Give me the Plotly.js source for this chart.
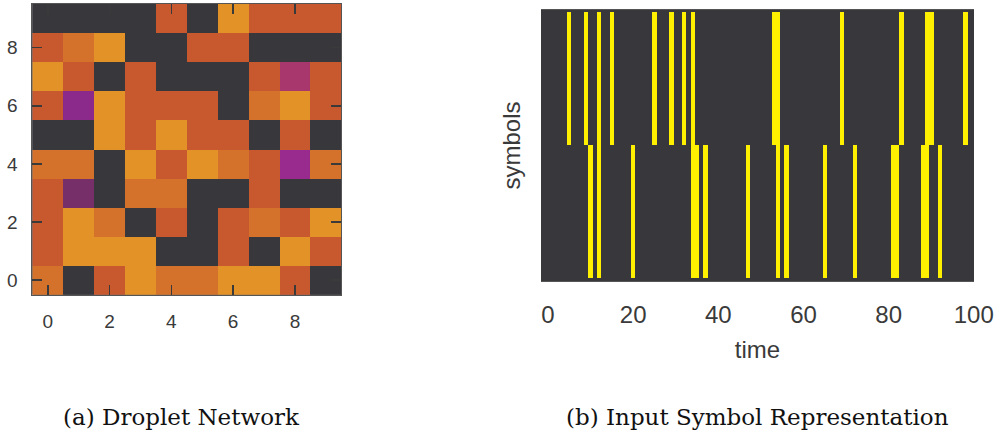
<!DOCTYPE html>
<html>
<head>
<meta charset="utf-8">
<script src="https://cdn.plot.ly/plotly-3.0.1.min.js"></script>
<style>html,body{margin:0;padding:0;background:#fff;}#chart{width:1001px;height:434px;}</style>
</head>
<body>
<div id="chart"></div>
<script>
// ---- Droplet network: state level of each droplet (rows y=0..9, cols x=0..9) ----
// levels: 0 empty, 1 dark purple, 2 purple, 3 violet, 4 magenta, 5 red, 6 orange, 7 amber
const dropletX = [0,1,2,3,4,5,6,7,8,9];
const dropletY = [0,1,2,3,4,5,6,7,8,9];
const row0 = [6,0,5,7,6,6,7,7,5,0];
const row1 = [5,7,7,7,0,0,5,0,7,5];
const row2 = [5,7,6,0,5,0,5,6,5,7];
const row3 = [5,1,0,6,6,0,0,5,0,0];
const row4 = [6,6,0,7,5,7,6,5,3,6];
const row5 = [0,0,7,5,7,5,5,0,5,0];
const row6 = [5,2,7,5,5,5,0,6,7,5];
const row7 = [7,5,0,5,0,0,0,5,4,5];
const row8 = [5,6,7,0,0,5,5,0,0,0];
const row9 = [0,0,0,0,5,0,7,5,5,5];
const levelColors = ['#38373c','#762f68','#8c2a8c','#9a2b8e','#a8376e','#c8582e','#d4722b','#e29226'];

// ---- Input symbols: time steps at which each symbol is present ----
const timeSteps = 100;
const symbolTop = [5,9,12,15,25,29,32,34,53,54,69,83,89,90,98];
const symbolBottom = [10,12,20,34,35,37,47,54,56,65,72,81,82,88,89,92];
const timeTicks = [0,20,40,60,80,100];

const dropletZ = [row0,row1,row2,row3,row4,row5,row6,row7,row8,row9];
const nLev = levelColors.length;
const cs = [];
levelColors.forEach((c,i)=>{cs.push([i/nLev,c]);cs.push([(i+1)/nLev,c]);});

const times = Array.from({length:timeSteps},(_,i)=>i);
const zBottom = times.map(t=>symbolBottom.includes(t)?1:0);
const zTop = times.map(t=>symbolTop.includes(t)?1:0);

const dark = '#38373c';
const tickFontL = {family:'Liberation Sans, Arial, sans-serif', size:19, color:'#3a3a3a'};
const tickFontR = {family:'Liberation Sans, Arial, sans-serif', size:24, color:'#3a3a3a'};

const traces = [
  {type:'heatmap', x:dropletX, y:dropletY, z:dropletZ, colorscale:cs, zmin:-0.5, zmax:nLev-0.5,
   showscale:false, xaxis:'x', yaxis:'y', hoverinfo:'skip'},
  {type:'heatmap', x:times, y:[0,1], z:[zBottom,zTop], colorscale:[[0,dark],[1,'#fff000']], zmin:0, zmax:1,
   showscale:false, xaxis:'x2', yaxis:'y2', hoverinfo:'skip'}
];

const layout = {
  width:1001, height:434, margin:{l:0,r:0,t:0,b:0},
  paper_bgcolor:'#ffffff', plot_bgcolor:dark, showlegend:false,
  xaxis:{domain:[32.3/1001,341.3/1001], range:[-0.5,9.5], anchor:'y', tickvals:[0,2,4,6,8],
    ticks:'inside', ticklen:10, tickwidth:1.5, tickcolor:'#3a3a3a', mirror:'ticks',
    showline:true, linecolor:'#555', linewidth:1, showgrid:false, zeroline:false,
    tickfont:tickFontL, ticklabelstandoff:9, automargin:false},
  yaxis:{domain:[(434-294.7)/434,(434-4)/434], range:[-0.5,9.5], anchor:'x', tickvals:[0,2,4,6,8],
    ticks:'inside', ticklen:10, tickwidth:1.5, tickcolor:'#3a3a3a', mirror:'ticks',
    showline:true, linecolor:'#555', linewidth:1, showgrid:false, zeroline:false,
    tickfont:tickFontL, ticklabelstandoff:10, automargin:false},
  xaxis2:{domain:[541/1001,974/1001], range:[-1.64,100.05], anchor:'y2', tickvals:timeTicks,
    ticks:'', showline:true, linecolor:'#555', linewidth:1, mirror:true, showgrid:false, zeroline:false,
    tickfont:tickFontR, ticklabelstandoff:12, automargin:false,
    title:{text:'time', font:{family:'Liberation Sans, Arial, sans-serif', size:24, color:'#3a3a3a'}, standoff:14}},
  yaxis2:{domain:[(434-281)/434,(434-10)/434], range:[-0.523,1.515], anchor:'x2',
    showticklabels:false, ticks:'', showgrid:false, zeroline:false, showline:false, automargin:false,
    title:{text:'symbols', font:{family:'Liberation Sans, Arial, sans-serif', size:24, color:'#3a3a3a'}, standoff:12}},
  annotations:[
    {text:'(a) Droplet Network', xref:'paper', yref:'paper', x:181/1001, y:(434-417)/434,
     xanchor:'center', yanchor:'middle', showarrow:false,
     font:{family:'DejaVu Serif, serif', size:23, color:'#111'}},
    {text:'(b) Input Symbol Representation', xref:'paper', yref:'paper', x:757/1001, y:(434-417)/434,
     xanchor:'center', yanchor:'middle', showarrow:false,
     font:{family:'DejaVu Serif, serif', size:23, color:'#111'}}
  ]
};

Plotly.newPlot('chart', traces, layout, {staticPlot:true, displayModeBar:false});
</script>
</body>
</html>
